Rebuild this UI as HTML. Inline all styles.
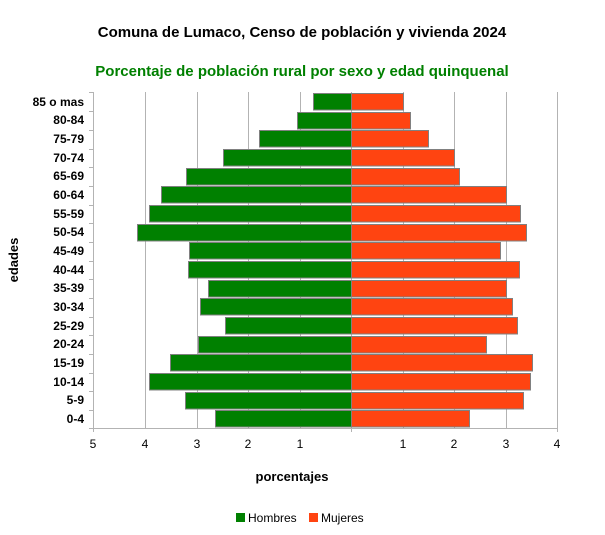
<!DOCTYPE html>
<html><head><meta charset="utf-8"><style>body{margin:0;background:#fff}</style></head><body>
<svg width="605" height="530" xmlns="http://www.w3.org/2000/svg" font-family="Liberation Sans, sans-serif">
<rect width="605" height="530" fill="#fff"/>
<text x="302" y="37" text-anchor="middle" font-size="15" font-weight="bold">Comuna de Lumaco, Censo de población y vivienda 2024</text>
<text x="302" y="76" text-anchor="middle" font-size="15" font-weight="bold" fill="#008000">Porcentaje de población rural por sexo y edad quinquenal</text>
<g stroke="#b3b3b3" stroke-width="1">
<line x1="145.5" y1="92" x2="145.5" y2="428"/><line x1="197.5" y1="92" x2="197.5" y2="428"/><line x1="248.5" y1="92" x2="248.5" y2="428"/><line x1="300.5" y1="92" x2="300.5" y2="428"/><line x1="351.5" y1="92" x2="351.5" y2="432"/><line x1="403.5" y1="92" x2="403.5" y2="428"/><line x1="454.5" y1="92" x2="454.5" y2="428"/><line x1="506.5" y1="92" x2="506.5" y2="428"/><line x1="557.5" y1="92" x2="557.5" y2="432"/>
<line x1="93.5" y1="92" x2="93.5" y2="432"/><line x1="89" y1="428.5" x2="558" y2="428.5"/>
</g>
<g stroke="#808080" stroke-width="1">
<rect x="313.5" y="93.5" width="38" height="16.5" fill="#008000"/><rect x="351.5" y="93.5" width="52" height="16.5" fill="#ff4411"/>
<rect x="297.5" y="112.5" width="54" height="16.5" fill="#008000"/><rect x="351.5" y="112.5" width="59" height="16.5" fill="#ff4411"/>
<rect x="259.5" y="130.5" width="92" height="16.5" fill="#008000"/><rect x="351.5" y="130.5" width="77" height="16.5" fill="#ff4411"/>
<rect x="223.5" y="149.5" width="128" height="16.5" fill="#008000"/><rect x="351.5" y="149.5" width="103" height="16.5" fill="#ff4411"/>
<rect x="186.5" y="168.5" width="165" height="16.5" fill="#008000"/><rect x="351.5" y="168.5" width="108" height="16.5" fill="#ff4411"/>
<rect x="161.5" y="186.5" width="190" height="16.5" fill="#008000"/><rect x="351.5" y="186.5" width="155" height="16.5" fill="#ff4411"/>
<rect x="149.5" y="205.5" width="202" height="16.5" fill="#008000"/><rect x="351.5" y="205.5" width="169" height="16.5" fill="#ff4411"/>
<rect x="137.5" y="224.5" width="214" height="16.5" fill="#008000"/><rect x="351.5" y="224.5" width="175" height="16.5" fill="#ff4411"/>
<rect x="189.5" y="242.5" width="162" height="16.5" fill="#008000"/><rect x="351.5" y="242.5" width="149" height="16.5" fill="#ff4411"/>
<rect x="188.5" y="261.5" width="163" height="16.5" fill="#008000"/><rect x="351.5" y="261.5" width="168" height="16.5" fill="#ff4411"/>
<rect x="208.5" y="280.5" width="143" height="16.5" fill="#008000"/><rect x="351.5" y="280.5" width="155" height="16.5" fill="#ff4411"/>
<rect x="200.5" y="298.5" width="151" height="16.5" fill="#008000"/><rect x="351.5" y="298.5" width="161" height="16.5" fill="#ff4411"/>
<rect x="225.5" y="317.5" width="126" height="16.5" fill="#008000"/><rect x="351.5" y="317.5" width="166" height="16.5" fill="#ff4411"/>
<rect x="198.5" y="336.5" width="153" height="16.5" fill="#008000"/><rect x="351.5" y="336.5" width="135" height="16.5" fill="#ff4411"/>
<rect x="170.5" y="354.5" width="181" height="16.5" fill="#008000"/><rect x="351.5" y="354.5" width="181" height="16.5" fill="#ff4411"/>
<rect x="149.5" y="373.5" width="202" height="16.5" fill="#008000"/><rect x="351.5" y="373.5" width="179" height="16.5" fill="#ff4411"/>
<rect x="185.5" y="392.5" width="166" height="16.5" fill="#008000"/><rect x="351.5" y="392.5" width="172" height="16.5" fill="#ff4411"/>
<rect x="215.5" y="410.5" width="136" height="16.5" fill="#008000"/><rect x="351.5" y="410.5" width="118" height="16.5" fill="#ff4411"/>
</g>
<g stroke="#b3b3b3"><line x1="89" y1="111.5" x2="93" y2="111.5"/><line x1="89" y1="130.5" x2="93" y2="130.5"/><line x1="89" y1="149.5" x2="93" y2="149.5"/><line x1="89" y1="167.5" x2="93" y2="167.5"/><line x1="89" y1="186.5" x2="93" y2="186.5"/><line x1="89" y1="205.5" x2="93" y2="205.5"/><line x1="89" y1="223.5" x2="93" y2="223.5"/><line x1="89" y1="242.5" x2="93" y2="242.5"/><line x1="89" y1="261.5" x2="93" y2="261.5"/><line x1="89" y1="279.5" x2="93" y2="279.5"/><line x1="89" y1="298.5" x2="93" y2="298.5"/><line x1="89" y1="317.5" x2="93" y2="317.5"/><line x1="89" y1="335.5" x2="93" y2="335.5"/><line x1="89" y1="354.5" x2="93" y2="354.5"/><line x1="89" y1="373.5" x2="93" y2="373.5"/><line x1="89" y1="391.5" x2="93" y2="391.5"/><line x1="89" y1="410.5" x2="93" y2="410.5"/><line x1="89" y1="92.5" x2="93" y2="92.5"/></g>
<g font-size="12" font-weight="bold" text-anchor="end">
<text x="84" y="106">85 o mas</text><text x="84" y="124">80-84</text><text x="84" y="143">75-79</text><text x="84" y="162">70-74</text><text x="84" y="180">65-69</text><text x="84" y="199">60-64</text><text x="84" y="218">55-59</text><text x="84" y="236">50-54</text><text x="84" y="255">45-49</text><text x="84" y="274">40-44</text><text x="84" y="292">35-39</text><text x="84" y="311">30-34</text><text x="84" y="330">25-29</text><text x="84" y="348">20-24</text><text x="84" y="367">15-19</text><text x="84" y="386">10-14</text><text x="84" y="404">5-9</text><text x="84" y="423">0-4</text>
</g>
<g font-size="12" text-anchor="middle">
<text x="93" y="448">5</text><text x="145" y="448">4</text><text x="197" y="448">3</text><text x="248" y="448">2</text><text x="300" y="448">1</text><text x="403" y="448">1</text><text x="454" y="448">2</text><text x="506" y="448">3</text><text x="557" y="448">4</text>
</g>
<text x="292" y="481" text-anchor="middle" font-size="13" font-weight="bold">porcentajes</text>
<text transform="translate(18,260) rotate(-90)" text-anchor="middle" font-size="13" font-weight="bold">edades</text>
<rect x="236" y="513" width="9" height="9" fill="#008000"/><text x="248" y="522" font-size="12">Hombres</text>
<rect x="309" y="513" width="9" height="9" fill="#ff4411"/><text x="321" y="522" font-size="12">Mujeres</text>
</svg>
</body></html>
